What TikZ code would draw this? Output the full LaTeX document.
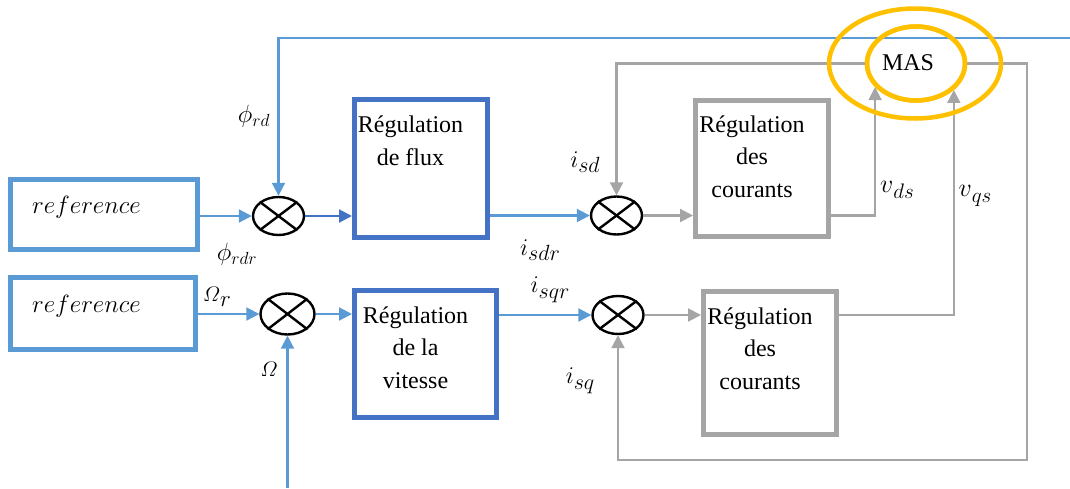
\RequirePackage{fix-cm}
\documentclass[tikz,border=0pt]{standalone}
\usepackage{amsmath}
\usepackage{fontspec}
\setmainfont{Liberation Serif}
\usetikzlibrary{arrows.meta,shapes.geometric}
\definecolor{refblue}{HTML}{5B9BD5}
\definecolor{regblue}{HTML}{4472C4}
\definecolor{ctrlgray}{HTML}{A5A5A5}
\definecolor{masorange}{HTML}{FFC000}
% signal name with a large, lowered index: #1 main size, #2 symbol, #3 index size, #4 index
\newcommand\siglabel[4]{{\fontsize{#1}{#1}\selectfont$#2$}\raisebox{-5.5pt}{\fontsize{#3}{#3}\selectfont$#4$}}
\begin{document}
\begin{tikzpicture}[x=1pt,y=-1pt,
  tipend/.style={-{Triangle[length=13pt,width=13pt]}},
  bluewire/.style={draw=refblue,line width=2.1pt,tipend},
  darkwire/.style={draw=regblue,line width=2.1pt,tipend},
  graywire/.style={draw=ctrlgray,line width=2.1pt,tipend},
  refbox/.style={draw=refblue,line width=5pt,rectangle,inner sep=0pt},
  regbox/.style={draw=regblue,line width=5pt,rectangle,inner sep=0pt},
  curbox/.style={draw=ctrlgray,line width=5pt,rectangle,inner sep=0pt},
  sumnode/.style={draw=black,line width=2.4pt,ellipse,inner sep=0pt,
    minimum width=51pt,minimum height=38pt},
  masring/.style={draw=masorange,line width=4.5pt,ellipse,inner sep=0pt},
  blocktext/.style={font=\fontsize{24}{32.3}\selectfont,align=center,inner sep=0pt,anchor=base},
  sig/.style={inner sep=0pt},
  reftext/.style={font=\fontsize{25}{30}\selectfont,inner sep=0pt,anchor=base west}
]
\useasboundingbox (0,0) rectangle (1070,488);

% blocks
\node[refbox,minimum width=187pt,minimum height=70pt] (ref1) at (104,214) {};
\node[refbox,minimum width=185pt,minimum height=72pt] (ref2) at (103,313.5) {};
\node[regbox,minimum width=133pt,minimum height=138pt] (flux) at (421,168.5) {};
\node[regbox,minimum width=142pt,minimum height=127pt] (vit) at (425.5,354) {};
\node[curbox,minimum width=133pt,minimum height=136pt] (cour1) at (762,168.5) {};
\node[curbox,minimum width=133pt,minimum height=143pt] (cour2) at (770,363) {};

% summing junctions
\node[sumnode] (sum1) at (278.5,216) {};
\node[sumnode] (sum2) at (616.5,215.5) {};
\node[sumnode,minimum width=54pt,minimum height=41pt] (sum3) at (287.5,314) {};
\node[sumnode] (sum4) at (618,315) {};
\foreach \s in {sum1,sum2,sum3,sum4}{
  \draw[line width=2.4pt] (\s.north east) -- (\s.south west);
  \draw[line width=2.4pt] (\s.north west) -- (\s.south east);
}

% block texts
\node[reftext] (ref1txt) at (32,213) {$reference$};
\node[reftext] (ref2txt) at (32,312) {$reference$};
\node[blocktext] (fluxtxt) at (410.5,165) {Régulation\\de flux};
\node[blocktext] (vittxt) at (415.5,388) {Régulation\\de la\\vitesse};
\node[blocktext] (cour1txt) at (752,197) {Régulation\\des\\courants};
\node[blocktext] (cour2txt) at (760,389) {Régulation\\des\\courants};

% free ends
\coordinate (topR) at (1070,38);
\coordinate (omegaIn) at (287.5,488);
\coordinate (fbR) at (1027,460);

% machine
\node[masring,fill=white,minimum width=98pt,minimum height=74pt] (mas) at (916,63.5) {};

% flux channel
\draw[bluewire] (topR) -| (sum1.north);
\draw[bluewire] (ref1.east |- sum1) -- (sum1.west);
\draw[darkwire] (sum1.east) -- (sum1.east -| flux.west);
\draw[bluewire] (flux.east |- sum2) -- (sum2.west);
\draw[graywire] (sum2.east) -- (sum2.east -| cour1.west);
\draw[graywire] (cour1.east |- sum2) -| (mas.210);
\draw[graywire] (mas.west) -| (sum2.north);

% speed channel
\draw[bluewire] (ref2.east |- sum3) -- (sum3.west);
\draw[bluewire] (omegaIn) -- (sum3.south);
\draw[bluewire] (sum3.east) -- (sum3.east -| vit.west);
\draw[bluewire] (vit.east |- sum4) -- (sum4.west);
\draw[graywire] (sum4.east) -- (sum4.east -| cour2.west);
\draw[graywire] (cour2.east |- sum4) -| (mas.325);
\draw[graywire] (mas.east) -| (fbR) -| (sum4.south);

% machine outline on top
\node[masring,minimum width=98pt,minimum height=74pt] (masin) at (916,63.5) {};
\node[masring,minimum width=172pt,minimum height=110pt] (masout) at (915,63.5) {};
\node[font=\fontsize{24}{28}\selectfont,inner sep=0pt,anchor=base] (mastxt) at (908,70) {MAS};

% signal labels
\node[sig,font=\fontsize{25}{27}\selectfont] (lphird) at (254,116) {$\phi_{rd}$};
\node[sig,font=\fontsize{25}{27}\selectfont] (lphirdr) at (237,254) {$\phi_{rdr}$};
\node[sig] (lisd) at (585,162) {\siglabel{24}{i}{22}{sd}};
\node[sig] (lisdr) at (540,250) {\siglabel{24}{i}{22}{sdr}};
\node[sig] (lvds) at (897,190) {\siglabel{26}{v}{21}{ds}};
\node[sig] (lvqs) at (975,196) {\siglabel{26}{v}{21}{qs}};
\node[sig] (lomr) at (217,297) {\siglabel{21}{\varOmega}{23}{r}};
\node[sig,font=\fontsize{21}{23}\selectfont] (lom) at (269,369) {$\varOmega$};
\node[sig] (lisqr) at (550,290) {\siglabel{24}{i}{22}{sqr}};
\node[sig] (lisq) at (580,381) {\siglabel{24}{i}{22}{sq}};
\end{tikzpicture}
\end{document}
